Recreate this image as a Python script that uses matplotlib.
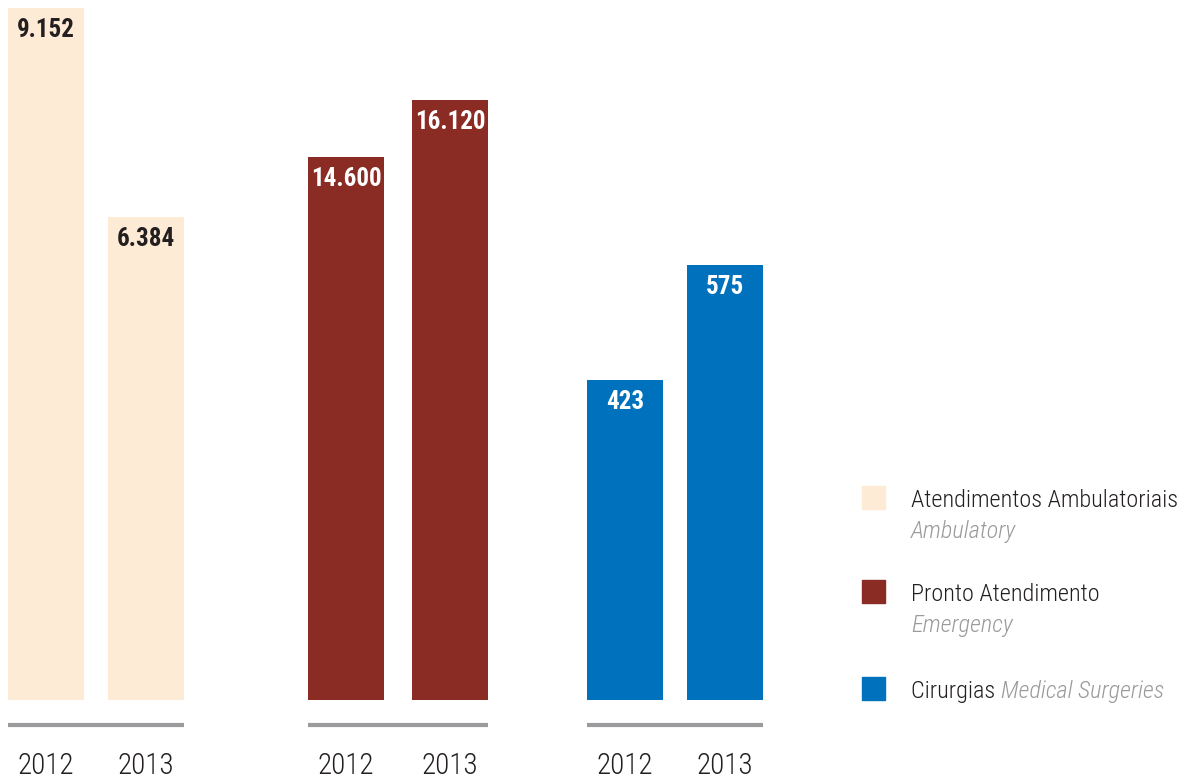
import matplotlib
matplotlib.use("Agg")
import matplotlib.pyplot as plt
from matplotlib.patches import Rectangle

plt.rcParams["font.family"] = ["Roboto Condensed", "DejaVu Sans"]

years = ["2012", "2013"]
ambulatory = [9152, 6384]
emergency = [14600, 16120]
surgeries = [423, 575]

series_pt = ["Atendimentos Ambulatoriais", "Pronto Atendimento", "Cirurgias"]
series_en = ["Ambulatory", "Emergency", "Medical Surgeries"]
colors = ["#FDEBD5", "#8A2B24", "#0071BC"]
label_colors = ["#231F20", "white", "white"]

W, H = 1192, 783
fig = plt.figure(figsize=(W / 100, H / 100), dpi=100)

def px(x, y):
    return x / W, 1 - y / H

# each group gets its own scale: (left px, right px, top-of-axis value)
groups = [
    (ambulatory, 8, 184, 9257),
    (emergency, 308, 488, 18807),
    (surgeries, 587, 763, 925),
]
base_y = 700
bar_px = 76

for i, (vals, left, right, ymax) in enumerate(groups):
    x0, y0 = px(left, base_y)
    ax = fig.add_axes([x0, y0, (right - left) / W, base_y / H])
    bw = bar_px / (right - left - bar_px)
    xs = list(range(len(vals)))
    ax.bar(xs, vals, width=bw, color=colors[i])
    ax.set_xlim(-bw / 2, len(vals) - 1 + bw / 2)
    ax.set_ylim(0, ymax)
    ax.axis("off")
    for x, v in zip(xs, vals):
        txt = f"{v:,}".replace(",", ".")
        ax.annotate(txt, (x, v), xytext=(0, -22), textcoords="offset pixels",
                    ha="center", va="center", fontsize=18, fontweight="bold",
                    color=label_colors[i])
        ax.text(x, -66 / base_y, years[x], transform=ax.get_xaxis_transform(),
                ha="center", va="center", fontsize=21, fontweight="light",
                color="#231F20")
    ax.plot([0, 1], [-25 / base_y] * 2, transform=ax.transAxes,
            color="#9B9B9D", lw=3, clip_on=False, solid_capstyle="butt")

# legend
sq_tops = [486, 580, 677]
fs = 17.5
for i in range(3):
    sx, sy = px(862, sq_tops[i] + 23)
    fig.patches.append(Rectangle((sx, sy), 23 / W, 23 / H, color=colors[i],
                                 transform=fig.transFigure, figure=fig))
    tx, ty = px(911, sq_tops[i] + 21)
    if i < 2:
        fig.text(tx, ty, series_pt[i], fontsize=fs, fontweight="light",
                 color="#231F20", va="baseline")
        tx2, ty2 = px(911, sq_tops[i] + 52)
        fig.text(tx2, ty2, series_en[i], fontsize=fs, fontweight="light",
                 color="#9A9A9C", style="italic", va="baseline")
    else:
        t = fig.text(tx, ty, series_pt[i] + " ", fontsize=fs, fontweight="light",
                     color="#231F20", va="baseline")
        fig.canvas.draw()
        bb = t.get_window_extent()
        fig.text(bb.x1 / W, ty, series_en[i], fontsize=fs, fontweight="light",
                 color="#9A9A9C", style="italic", va="baseline")

fig.savefig("out.png", dpi=100)
